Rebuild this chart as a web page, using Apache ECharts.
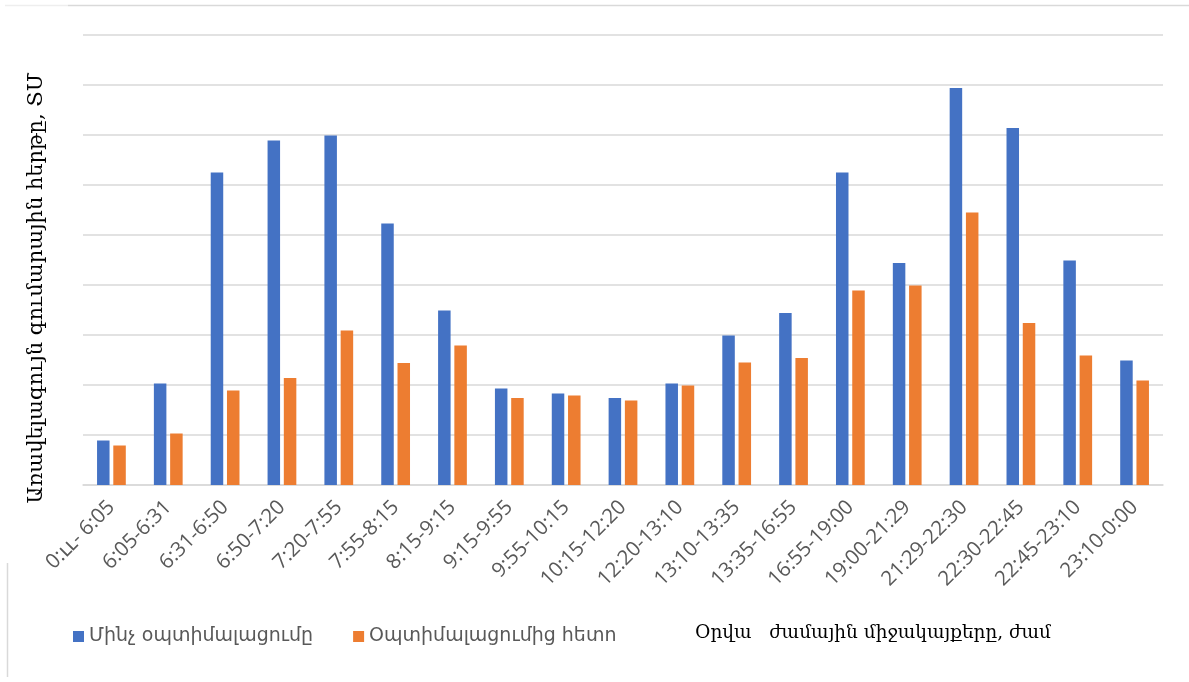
<!DOCTYPE html>
<html>
<head>
<meta charset="utf-8">
<script src="https://cdn.jsdelivr.net/npm/echarts@6/dist/echarts.min.js"></script>
<style>
  html, body { margin: 0; padding: 0; background: #fff; }
  #root { width: 1189px; height: 682px; }
</style>
</head>
<body>
<div id="root"></div>
<script>
// time intervals of the day
var categories = ["0:ււ- 6:05", "6:05-6:31", "6:31-6:50", "6:50-7:20", "7:20-7:55", "7:55-8:15",
  "8:15-9:15", "9:15-9:55", "9:55-10:15", "10:15-12:20", "12:20-13:10", "13:10-13:35",
  "13:35-16:55", "16:55-19:00", "19:00-21:29", "21:29-22:30", "22:30-22:45", "22:45-23:10", "23:10-0:00"];

var seriesNames = ["Մինչ օպտիմալացումը", "Օպտիմալացումից հետո"];

// (no axis labels in source, units are arbitrary)
var beforeVals = [8.9, 20.3, 62.5, 68.9, 69.9, 52.3, 34.9, 19.3, 18.3, 17.4, 20.3, 29.9,
  34.4, 62.5, 44.4, 79.4, 71.4, 44.9, 24.9];
var afterVals = [7.9, 10.3, 18.9, 21.4, 30.9, 24.4, 27.9, 17.4, 17.9, 16.9, 19.9, 24.5,
  25.4, 38.9, 39.9, 54.5, 32.4, 25.9, 20.9];

var yTitle = "Առավելագույն գումարային հերթը, ՏՄ";
var xTitle = "Օրվա   ժամային միջակայքերը, ժամ";

var chart = echarts.init(document.getElementById("root"));

var option = {
  animation: false,
  backgroundColor: "#fff",
  grid: { left: 83, right: 26, top: 35, bottom: 197 },
  legend: {
    left: 68,
    top: 622,
    itemWidth: 11,
    itemHeight: 11,
    itemGap: 40,
    icon: "rect",
    textStyle: { color: "#595959", fontSize: 19, fontFamily: "DejaVu Sans" },
    data: seriesNames
  },
  xAxis: {
    type: "category",
    data: categories,
    axisTick: { show: false },
    axisLine: { lineStyle: { color: "#d9d9d9", width: 1.5 } },
    axisLabel: {
      rotate: 45,
      interval: 0,
      margin: 19,
      color: "#595959",
      fontSize: 20.5,
      fontFamily: "Open Sans"
    }
  },
  yAxis: {
    type: "value",
    min: 0,
    max: 90,
    interval: 10,
    axisLabel: { show: false },
    axisLine: { show: false },
    axisTick: { show: false },
    splitLine: { lineStyle: { color: "#d9d9d9", width: 1.5 } }
  },
  series: [
    {
      name: seriesNames[0],
      type: "bar",
      data: beforeVals,
      barWidth: "22%",
      barGap: "30%",
      itemStyle: { color: "#4472c4" }
    },
    {
      name: seriesNames[1],
      type: "bar",
      data: afterVals,
      barWidth: "22%",
      itemStyle: { color: "#ed7d31" }
    }
  ],
  graphic: [
    { type: "line", shape: { x1: 5, y1: 5.5, x2: 68, y2: 5.5 }, style: { stroke: "#eeeeee", lineWidth: 1.5 } },
    { type: "line", shape: { x1: 68, y1: 5.5, x2: 1189, y2: 5.5 }, style: { stroke: "#d9d9d9", lineWidth: 1.5 } },
    { type: "line", shape: { x1: 7.5, y1: 563, x2: 7.5, y2: 677 }, style: { stroke: "#d9d9d9", lineWidth: 1.5 } },
    {
      type: "text",
      x: 37,
      y: 288,
      rotation: Math.PI / 2,
      style: {
        text: yTitle,
        fill: "#000",
        font: "21px 'DejaVu Serif'",
        textAlign: "center",
        textVerticalAlign: "middle"
      }
    },
    {
      type: "text",
      x: 695,
      y: 633,
      style: {
        text: xTitle,
        fill: "#000",
        font: "18.5px 'DejaVu Serif'",
        textAlign: "left",
        textVerticalAlign: "middle"
      }
    }
  ]
};

chart.setOption(option);
</script>
</body>
</html>
